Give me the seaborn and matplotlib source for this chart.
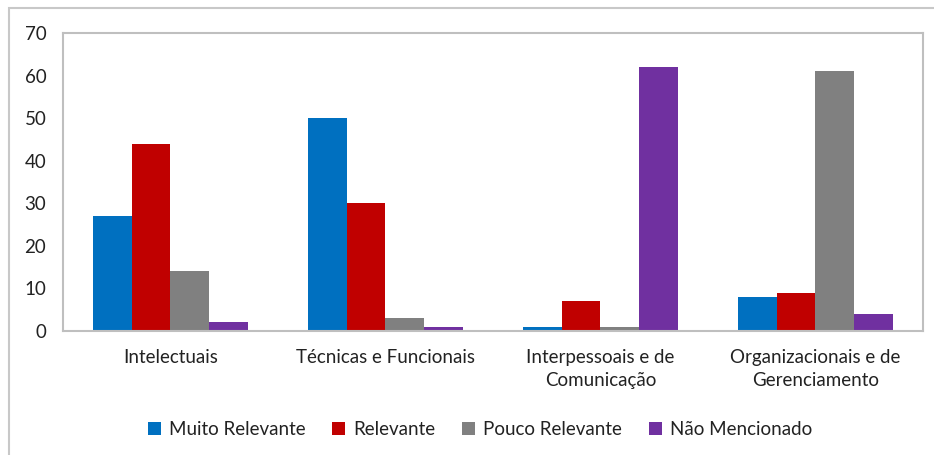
import matplotlib
matplotlib.use("Agg")
import matplotlib.pyplot as plt
import seaborn as sns
import pandas as pd
from matplotlib.patches import Rectangle

categories = ["Intelectuais", "Técnicas e Funcionais",
              "Interpessoais e de\nComunicação", "Organizacionais e de\nGerenciamento"]
series = ["Muito Relevante", "Relevante", "Pouco Relevante", "Não Mencionado"]
muito_relevante = [27, 50, 1, 8]
relevante = [44, 30, 7, 9]
pouco_relevante = [14, 3, 1, 61]
nao_mencionado = [2, 1, 62, 4]
colors = ["#0070C0", "#C00000", "#808080", "#7030A0"]

rows = []
for s, vals in zip(series, [muito_relevante, relevante, pouco_relevante, nao_mencionado]):
    for c, v in zip(categories, vals):
        rows.append({"Categoria": c, "Série": s, "Valor": v})
df = pd.DataFrame(rows)

sns.set_theme(style="white")
plt.rcParams['font.family'] = ['Lato', 'DejaVu Sans']

fig = plt.figure(figsize=(9.34, 4.55), dpi=100)
ax = fig.add_axes([63/934, 1-331/455, (923-63)/934, (331-33)/455])

sns.barplot(data=df, x="Categoria", y="Valor", hue="Série", order=categories,
            hue_order=series, palette=colors, width=0.72, saturation=1,
            edgecolor="none", linewidth=0, ax=ax)

ax.set_ylim(0, 70)
ax.set_yticks(range(0, 71, 10))
ax.set_xlim(-0.5, 3.5)
ax.set_xlabel("")
ax.set_ylabel("")
ax.tick_params(axis='both', length=0, labelsize=13.5, colors="#222222")
ax.tick_params(axis='y', pad=12)
ax.tick_params(axis='x', pad=13)
for lab in ax.get_xticklabels():
    lab.set_linespacing(1.45)
for sp in ax.spines.values():
    sp.set_color("#BFBFBF")
    sp.set_linewidth(1.5)

leg = ax.legend(loc="upper center", bbox_to_anchor=(0.5 - 13/860, -0.245), ncol=4,
                frameon=False, fontsize=13.5, handlelength=0.7, handleheight=0.7,
                handletextpad=0.45, columnspacing=1.4)
for t in leg.get_texts():
    t.set_color("#222222")

fig.patches.append(Rectangle((9/934, -0.05), 1.0, 1-8/455+0.05, transform=fig.transFigure,
                             fill=False, edgecolor="#C8C8C8", linewidth=1.5))

fig.savefig("out.png", dpi=100)
